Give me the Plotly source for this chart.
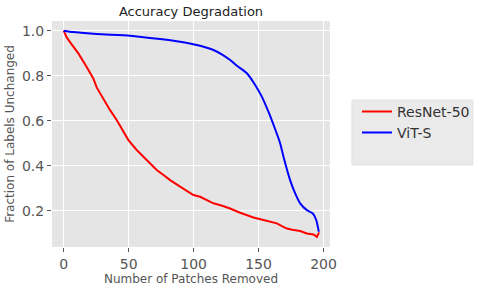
import plotly.graph_objects as go

resnet_x = [0, 2.3, 6, 11.3, 17, 22.8, 25.4, 30, 35.7, 40.8, 46, 49.8, 56.2, 63.9, 71.6, 76.8, 81.9,
            89.6, 95, 99.9, 105, 110, 115.3, 122, 128.1, 135.8, 141, 146.1, 153.8, 160, 164.1, 168,
            171.8, 176, 182, 187.2, 192.3, 194.9, 196.6]
resnet_y = [1.0, 0.970, 0.94, 0.899, 0.845, 0.788, 0.748, 0.70, 0.647, 0.603, 0.551, 0.514, 0.470, 0.425,
            0.381, 0.359, 0.336, 0.307, 0.288, 0.270, 0.262, 0.247, 0.233, 0.222, 0.210, 0.191, 0.181,
            0.170, 0.159, 0.150, 0.144, 0.132, 0.121, 0.116, 0.110, 0.099, 0.095, 0.084, 0.104]

vit_x = [0, 7.4, 25.4, 51.1, 74.2, 89.6, 98, 105.1, 115.3, 122, 128.1, 133.3, 141, 147.4, 152.5, 157.6,
         162.8, 166.6, 169.2, 174.3, 178.2, 182, 187.2, 191.8, 194.4, 196.4]
vit_y = [1.0, 0.994, 0.985, 0.978, 0.963, 0.951, 0.942, 0.933, 0.914, 0.894, 0.870, 0.844, 0.811, 0.759,
         0.707, 0.640, 0.562, 0.500, 0.440, 0.336, 0.277, 0.233, 0.203, 0.188, 0.159, 0.107]

x_ticks = [0, 50, 100, 150, 200]
y_ticks = [0.2, 0.4, 0.6, 0.8, 1.0]

fig = go.Figure()
fig.add_trace(go.Scatter(x=resnet_x, y=resnet_y, mode="lines", name="ResNet-50",
                         line=dict(color="red", width=2)))
fig.add_trace(go.Scatter(x=vit_x, y=vit_y, mode="lines", name="ViT-S",
                         line=dict(color="blue", width=2, shape="spline", smoothing=0.6)))

# legend frame (matplotlib-style box with extra room below the entries)
fig.add_shape(type="rect", xref="paper", yref="paper", x0=1.079, x1=1.514, y0=0.363, y1=0.650,
              fillcolor="#EAEAEA", line=dict(color="#E2E2E2", width=1), layer="below")

fig.update_layout(
    width=479, height=290,
    margin=dict(l=52, r=149, t=21, b=43, autoexpand=False),
    paper_bgcolor="white", plot_bgcolor="#E5E5E5",
    font=dict(family="DejaVu Sans", color="#555555"),
    title=dict(text="Accuracy Degradation", x=(52 + 330) / 2 / 479, xanchor="center",
               y=1 - 11 / 290, yanchor="middle", font=dict(size=13, color="#222222")),
    legend=dict(xref="container", yref="container", x=357 / 479, y=0.6697,
                xanchor="left", yanchor="top",
                bgcolor="rgba(0,0,0,0)", borderwidth=0,
                font=dict(size=14, color="#333333"), tracegroupgap=0, itemwidth=30),
    showlegend=True,
)
fig.update_xaxes(range=[-9, 205], tickvals=x_ticks, ticks="outside", ticklen=4, tickcolor="#555555",
                 showgrid=True, gridcolor="white", gridwidth=1.2, zeroline=False, showline=False,
                 automargin=False,
                 tickfont=dict(size=14, color="#555555"),
                 title=dict(text="Number of Patches Removed", font=dict(size=12, color="#555555"), standoff=2))
fig.update_yaxes(range=[0.039, 1.043], tickvals=y_ticks, tickformat=".1f", ticks="outside", ticklen=4,
                 tickcolor="#555555",
                 showgrid=True, gridcolor="white", gridwidth=1.2, zeroline=False, showline=False,
                 automargin=False,
                 tickfont=dict(size=14, color="#555555"),
                 title=dict(text="Fraction of Labels Unchanged", font=dict(size=12, color="#555555"), standoff=4))

fig.write_html("out.html", config={"displayModeBar": False},
               post_script="document.body.style.margin='0';document.body.style.overflow='hidden';")
